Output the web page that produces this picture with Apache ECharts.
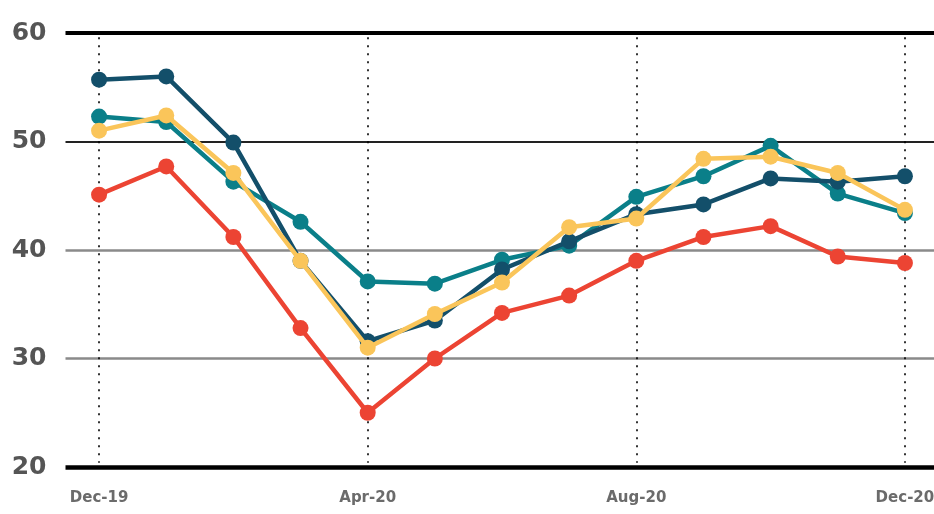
<!DOCTYPE html>
<html>
<head>
<meta charset="utf-8">
<script src="https://cdn.jsdelivr.net/npm/echarts@6/dist/echarts.min.js"></script>
<style>
html,body{margin:0;padding:0;background:#fff;overflow:hidden;}
#chart{width:940px;height:514px;}
</style>
</head>
<body>
<div id="chart"></div>
<script>
var categories = ['Dec-19','Jan-20','Feb-20','Mar-20','Apr-20','May-20','Jun-20','Jul-20','Aug-20','Sep-20','Oct-20','Nov-20','Dec-20'];
var tealValues   = [52.3, 51.8, 46.3, 42.6, 37.1, 36.9, 39.1, 40.4, 44.9, 46.8, 49.6, 45.2, 43.4];
var navyValues   = [55.7, 56.0, 49.9, 39.0, 31.6, 33.5, 38.2, 40.8, 43.3, 44.2, 46.6, 46.3, 46.8];
var yellowValues = [51.0, 52.4, 47.1, 39.0, 31.0, 34.1, 37.0, 42.1, 42.9, 48.4, 48.6, 47.1, 43.7];
var redValues    = [45.1, 47.7, 41.2, 32.8, 25.0, 30.0, 34.2, 35.8, 39.0, 41.2, 42.2, 39.4, 38.8];
var yTicks = [20, 30, 40, 50, 60];
var dottedAt = ['Dec-19', 'Apr-20', 'Aug-20', 'Dec-20'];

var chart = echarts.init(document.getElementById('chart'));

function lineSeries(name, data, color, z) {
  return {
    name: name, type: 'line', data: data, z: z,
    symbol: 'circle', symbolSize: 16,
    lineStyle: {color: color, width: 4.5},
    itemStyle: {color: color},
    animation: false
  };
}

var hStyles = {
  60: {color: '#000', width: 4},
  50: {color: '#222', width: 2},
  40: {color: '#8a8a8a', width: 2.5},
  30: {color: '#8a8a8a', width: 2.5},
  20: {color: '#000', width: 4.5}
};

var refSeries = {
  type: 'line', data: [], z: 1, silent: true, animation: false,
  markLine: {
    silent: true, symbol: 'none', animation: false, z: 1,
    label: {show: false},
    data: yTicks.map(function (v) {
      return {yAxis: v, lineStyle: {type: 'solid', color: hStyles[v].color, width: hStyles[v].width}};
    }).concat(dottedAt.map(function (c) {
      return [
        {coord: [c, 59.6], lineStyle: {type: [2, 6], color: '#000', width: 1.6}},
        {coord: [c, 20.4]}
      ];
    }))
  }
};

chart.setOption({
  backgroundColor: '#fff',
  animation: false,
  grid: {left: 65.5, right: 1.5, top: 33, bottom: 47, containLabel: false},
  xAxis: {
    type: 'category', data: categories, boundaryGap: true,
    axisLine: {show: false}, axisTick: {show: false}, splitLine: {show: false},
    axisLabel: {
      interval: 3, margin: 24, color: '#6b6b6b',
      fontFamily: 'DejaVu Sans', fontWeight: 'bold', fontSize: 15
    }
  },
  yAxis: {
    type: 'value', min: 20, max: 60, interval: 10,
    axisLine: {show: false}, axisTick: {show: false}, splitLine: {show: false},
    axisLabel: {
      margin: 19, color: '#555', fontFamily: 'DejaVu Sans', fontWeight: 'bold', fontSize: 25
    }
  },
  series: [
    refSeries,
    lineSeries('Teal', tealValues, '#0a7f89', 3),
    lineSeries('Navy', navyValues, '#134f6a', 4),
    lineSeries('Yellow', yellowValues, '#fac55a', 5),
    lineSeries('Red', redValues, '#ec4433', 6)
  ]
});
</script>
</body>
</html>
